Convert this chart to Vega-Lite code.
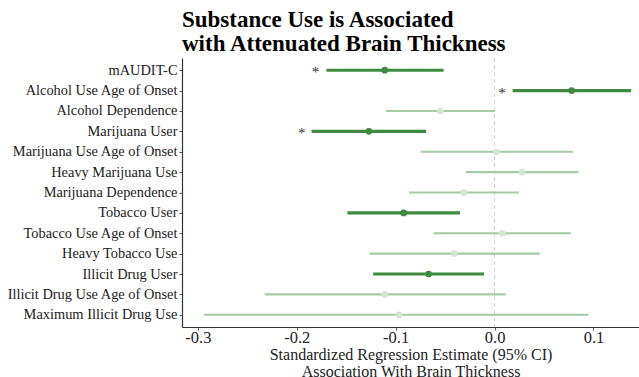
{
  "$schema": "https://vega.github.io/schema/vega-lite/v6.json",
  "autosize": {"type": "none"},
  "width": 457,
  "height": 269,
  "padding": {"left": 182, "top": 58, "right": 0, "bottom": 50},
  "background": "white",
  "title": {
    "text": ["Substance Use is Associated", "with Attenuated Brain Thickness"],
    "font": "Liberation Serif",
    "fontSize": 23,
    "fontWeight": "bold",
    "color": "black",
    "anchor": "start",
    "frame": "group",
    "lineHeight": 23.5,
    "offset": 2
  },
  "config": {
    "view": {"stroke": null},
    "font": "Liberation Serif"
  },
  "data": {
    "values": [
      {"var": "mAUDIT-C", "est": -0.111, "lo": -0.170, "hi": -0.0515, "sig": "yes", "star": -0.181},
      {"var": "Alcohol Use Age of Onset", "est": 0.0778, "lo": 0.0182, "hi": 0.138, "sig": "yes", "star": 0.0075},
      {"var": "Alcohol Dependence", "est": -0.0548, "lo": -0.1097, "hi": 0.0, "sig": "no", "star": null},
      {"var": "Marijuana User", "est": -0.127, "lo": -0.185, "hi": -0.0693, "sig": "yes", "star": -0.195},
      {"var": "Marijuana Use Age of Onset", "est": 0.002, "lo": -0.0747, "hi": 0.0792, "sig": "no", "star": null},
      {"var": "Heavy Marijuana Use", "est": 0.0277, "lo": -0.0289, "hi": 0.0849, "sig": "no", "star": null},
      {"var": "Marijuana Dependence", "est": -0.0313, "lo": -0.0865, "hi": 0.0246, "sig": "no", "star": null},
      {"var": "Tobacco User", "est": -0.0919, "lo": -0.1488, "hi": -0.035, "sig": "yes", "star": null},
      {"var": "Tobacco Use Age of Onset", "est": 0.0078, "lo": -0.0616, "hi": 0.0772, "sig": "no", "star": null},
      {"var": "Heavy Tobacco Use", "est": -0.0407, "lo": -0.1266, "hi": 0.0455, "sig": "no", "star": null},
      {"var": "Illicit Drug User", "est": -0.0667, "lo": -0.1228, "hi": -0.0107, "sig": "yes", "star": null},
      {"var": "Illicit Drug Use Age of Onset", "est": -0.111, "lo": -0.2323, "hi": 0.0111, "sig": "no", "star": null},
      {"var": "Maximum Illicit Drug Use", "est": -0.0966, "lo": -0.294, "hi": 0.095, "sig": "no", "star": null}
    ]
  },
  "encoding": {
    "y": {
      "field": "var",
      "type": "nominal",
      "sort": null,
      "scale": {"type": "point", "padding": 0.6},
      "axis": {
        "title": null,
        "labelFont": "Liberation Serif",
        "labelFontSize": 14.4,
        "labelColor": "#222222",
        "labelPadding": 2,
        "domainColor": "#333333",
        "domainWidth": 1.2,
        "tickColor": "#555555",
        "tickSize": 3,
        "grid": false
      }
    }
  },
  "layer": [
    {
      "data": {"values": [{"z": 0}]},
      "mark": {"type": "rule", "strokeDash": [4, 3], "color": "#d0d0d0", "strokeWidth": 1},
      "encoding": {"x": {"field": "z", "type": "quantitative"}, "y": null}
    },
    {
      "mark": {"type": "rule"},
      "encoding": {
        "x": {
          "field": "lo",
          "type": "quantitative",
          "scale": {"domain": [-0.316, 0.146], "nice": false, "zero": false},
          "axis": {
            "title": ["Standardized Regression Estimate (95% CI)", "Association With Brain Thickness"],
            "titleFont": "Liberation Serif",
            "titleFontSize": 16,
            "titleFontWeight": "normal",
            "titleColor": "#222222",
            "titleLineHeight": 17,
            "titlePadding": 0.5,
            "values": [-0.3, -0.2, -0.1, 0, 0.1],
            "labelExpr": "replace(format(datum.value, '.1f'), '\u2212', '-')",
            "labelFont": "Liberation Serif",
            "labelFontSize": 16.5,
            "labelColor": "#222222",
            "labelPadding": -1,
            "domainColor": "#333333",
            "domainWidth": 1.2,
            "tickColor": "#555555",
            "tickSize": 3,
            "grid": false
          }
        },
        "x2": {"field": "hi"},
        "color": {"condition": {"test": "datum.sig === 'yes'", "value": "#3f8a40"}, "value": "#a6c9a6"},
        "strokeWidth": {"condition": {"test": "datum.sig === 'yes'", "value": 3.2}, "value": 2.2}
      }
    },
    {
      "mark": {"type": "point", "filled": true, "opacity": 1, "size": 45},
      "encoding": {
        "x": {"field": "est", "type": "quantitative"},
        "color": {"condition": {"test": "datum.sig === 'yes'", "value": "#3f8a40"}, "value": "#d4e5d4"}
      }
    },
    {
      "transform": [{"filter": "datum.star != null"}],
      "mark": {"type": "text", "text": "*", "fontSize": 15, "color": "#333333", "baseline": "middle", "align": "center", "dy": 2},
      "encoding": {
        "x": {"field": "star", "type": "quantitative"}
      }
    }
  ]
}
